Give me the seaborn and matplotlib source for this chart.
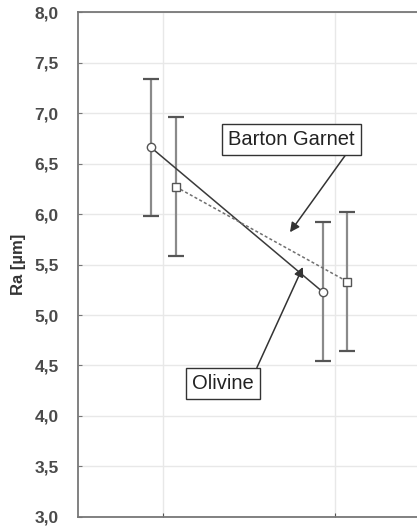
import matplotlib
matplotlib.use("Agg")
import matplotlib.pyplot as plt
import seaborn as sns
import pandas as pd
import numpy as np

categories = [0, 1]
series = ["Olivine", "Barton Garnet"]
olivine_mean = [6.66, 5.23]
olivine_err = [0.68, 0.69]
garnet_mean = [6.27, 5.33]
garnet_err = [0.69, 0.69]
y_ticks = [3.0, 3.5, 4.0, 4.5, 5.0, 5.5, 6.0, 6.5, 7.0, 7.5, 8.0]

sns.set_style("whitegrid")
plt.rcParams['font.family'] = ['Liberation Sans', 'DejaVu Sans']

offsets = {"Olivine": -0.07, "Barton Garnet": 0.075}
rows = []
for name, means, errs in [("Olivine", olivine_mean, olivine_err),
                          ("Barton Garnet", garnet_mean, garnet_err)]:
    for c, m, e in zip(categories, means, errs):
        rows.append({"series": name, "x": c + offsets[name], "Ra": m, "err": e})
df = pd.DataFrame(rows)

fig = plt.figure(figsize=(4.17, 5.28), dpi=100)
ax = fig.add_axes([0.187, 0.021, 0.813, 0.956])

for name in series:
    d = df[df.series == name]
    ax.errorbar(d["x"], d["Ra"], yerr=d["err"], fmt="none", ecolor="#8a8a8a",
                elinewidth=1.6, capsize=6, capthick=1.6, zorder=2)

sns.lineplot(data=df, x="x", y="Ra", hue="series", style="series",
             palette={"Olivine": "#3a3a3a", "Barton Garnet": "#707070"},
             dashes={"Olivine": "", "Barton Garnet": (2, 1.5)},
             markers={"Olivine": "o", "Barton Garnet": "s"},
             markersize=6, markerfacecolor="white", markeredgewidth=1.0,
             linewidth=1.1, legend=False, ax=ax, zorder=3)
for line in ax.lines:
    line.set_markeredgecolor("#555555")

ax.set_xlim(-0.495, 1.48)
ax.set_ylim(3.0, 8.0)
ax.set_yticks(y_ticks)
ax.set_yticklabels([f"{v:.1f}".replace(".", ",") for v in y_ticks],
                   fontsize=12.5, fontweight="bold", color="#4a4a4a")
ax.set_xticks(categories)
ax.set_xticklabels([])
ax.set_xlabel("")
ax.set_ylabel("Ra [µm]", fontsize=12, fontweight="bold", color="#333333", labelpad=6)
ax.grid(True, color="#e8e8e8", linewidth=1.0)
for s in ["top", "left", "bottom"]:
    ax.spines[s].set_visible(True)
    ax.spines[s].set_color("#777777")
    ax.spines[s].set_linewidth(1.3)
ax.spines["right"].set_visible(False)
ax.tick_params(axis="y", direction="in", length=3, color="#777777", pad=14, left=True)
ax.tick_params(axis="x", direction="in", length=3, color="#555555", bottom=True)

bbox = dict(boxstyle="square,pad=0.3", fc="white", ec="#333333", lw=1.0)
arrow = dict(arrowstyle="-|>", color="#333333", lw=1.1, mutation_scale=14, shrinkA=0, shrinkB=0)
ax.annotate("Barton Garnet", xy=(0.74, 5.82), xytext=(0.75, 6.74),
            textcoords="data", fontsize=14.5, color="#222222", ha="center", va="center",
            bbox=bbox, arrowprops=dict(arrow, relpos=(0.96, 0.0)))
ax.annotate("Olivine", xy=(0.815, 5.475), xytext=(0.35, 4.32),
            textcoords="data", fontsize=14.5, color="#222222", ha="center", va="center",
            bbox=bbox, arrowprops=dict(arrow, relpos=(1.0, 1.0)))

fig.savefig("out.png", dpi=100)
